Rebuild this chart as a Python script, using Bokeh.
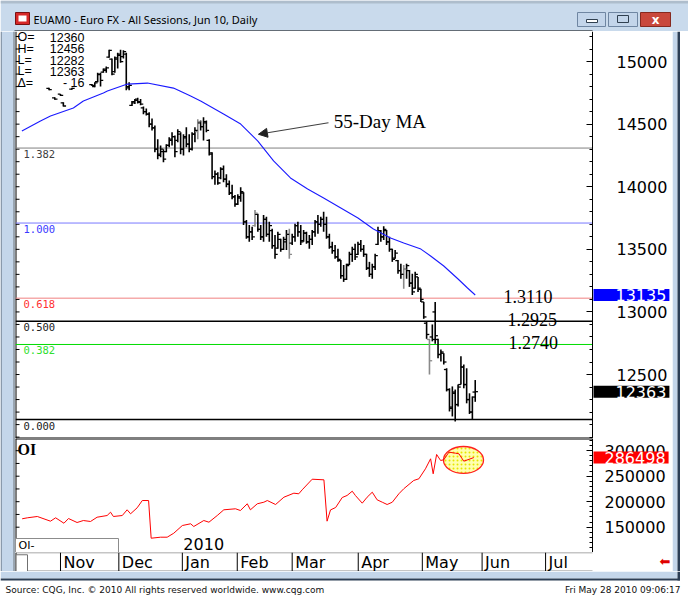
from bokeh.plotting import figure
from bokeh.layouts import column, row
from bokeh.models import (Range1d, LinearAxis, FixedTicker, Label, Arrow,
                          NormalHead, NumeralTickFormatter, ColumnDataSource)
from bokeh.core.properties import value
from bokeh.embed import file_html
from bokeh.resources import INLINE

# ------------------------------------------------------------------ data
# x = trading-day index (0 = first session of Nov 2009)
bar_idx = [-4, -2, 0, 1, 4] + list(range(11, 146))
bar_open = [14785, 14710, 14740, 14670, 14780,
    14815, 14800, 14840, 14895, 14915, 14930, 15035, 15020, 14920, 15020,
    15050, 15040, 15060, 14800, 14650, 14680, 14700, 14680, 14630, 14600,
    14580, 14500, 14470, 14300, 14260, 14280, 14280, 14330, 14370, 14400,
    14370, 14420, 14300, 14390, 14340, 14300, 14420, 14440, 14510, 14480,
    14510, 14370, 14260, 14080, 14100, 14070, 14140, 14060, 14020, 13950,
    13920, 13860, 13910, 13950, 13720, 13600, 13640, 13690, 13780, 13660,
    13600, 13740, 13620, 13650, 13530, 13510, 13580, 13500, 13560, 13620,
    13550, 13600, 13690, 13640, 13570, 13630, 13560, 13580, 13640, 13720,
    13700, 13740, 13700, 13600, 13520, 13490, 13440, 13410, 13290, 13260,
    13380, 13460, 13500, 13460, 13540, 13500, 13460, 13350, 13300, 13360,
    13540, 13650, 13600, 13650, 13560, 13500, 13430, 13410, 13330, 13300,
    13340, 13330, 13230, 13190, 13280, 13180, 13080, 12910, 12780, 12800,
    13000, 12780, 12660, 12670, 12540, 12380, 12240, 12350, 12260, 12420,
    12560, 12420, 12300, 12200, 12360]
bar_high = [14790, 14715, 14740, 14675, 14790,
    14820, 14835, 14910, 14910, 14945, 14960, 15095, 15025, 15040, 15070,
    15095, 15090, 15070, 14835, 14685, 14700, 14710, 14700, 14640, 14625,
    14595, 14545, 14490, 14380, 14330, 14300, 14340, 14395, 14435, 14410,
    14460, 14435, 14420, 14475, 14420, 14435, 14475, 14540, 14530, 14555,
    14530, 14380, 14275, 14130, 14115, 14155, 14170, 14100, 14050, 14015,
    13935, 13940, 13995, 13955, 13735, 13695, 13680, 13815, 13785, 13695,
    13775, 13760, 13720, 13665, 13615, 13640, 13585, 13600, 13655, 13665,
    13625, 13705, 13720, 13695, 13655, 13640, 13615, 13655, 13735, 13775,
    13760, 13800, 13760, 13625, 13560, 13535, 13505, 13415, 13375, 13385,
    13480, 13520, 13545, 13560, 13575, 13535, 13465, 13400, 13385, 13465,
    13680, 13655, 13685, 13655, 13600, 13505, 13495, 13415, 13385, 13375,
    13385, 13335, 13305, 13320, 13280, 13185, 13080, 12920, 12785, 12900,
    13080, 12785, 12700, 12670, 12550, 12390, 12405, 12380, 12420, 12645,
    12580, 12550, 12350, 12325, 12456]
bar_low = [14770, 14695, 14725, 14640, 14775,
    14805, 14795, 14835, 14800, 14910, 14910, 15030, 14890, 14910, 14945,
    14990, 15025, 14770, 14770, 14645, 14660, 14665, 14650, 14580, 14570,
    14475, 14450, 14275, 14220, 14235, 14195, 14275, 14315, 14330, 14235,
    14355, 14260, 14250, 14315, 14275, 14290, 14355, 14380, 14450, 14370,
    14435, 14250, 14060, 14015, 14015, 14060, 14035, 13995, 13935, 13900,
    13840, 13855, 13880, 13695, 13585, 13560, 13575, 13680, 13640, 13575,
    13560, 13600, 13560, 13505, 13425, 13505, 13480, 13495, 13495, 13425,
    13535, 13560, 13600, 13535, 13560, 13545, 13505, 13535, 13600, 13625,
    13680, 13640, 13585, 13505, 13465, 13425, 13400, 13265, 13240, 13255,
    13375, 13400, 13415, 13455, 13480, 13440, 13335, 13280, 13265, 13335,
    13535, 13560, 13575, 13535, 13480, 13400, 13425, 13305, 13265, 13185,
    13265, 13200, 13135, 13185, 13160, 13080, 12945, 12785, 12500, 12765,
    12745, 12630, 12605, 12580, 12365, 12205, 12165, 12125, 12245, 12420,
    12390, 12270, 12185, 12145, 12282]
bar_close = [14775, 14700, 14730, 14645, 14785,
    14810, 14830, 14900, 14850, 14940, 14950, 15090, 14900, 15030, 15060,
    15000, 15080, 14790, 14810, 14670, 14690, 14675, 14660, 14600, 14580,
    14500, 14470, 14300, 14250, 14300, 14220, 14330, 14380, 14400, 14280,
    14440, 14300, 14400, 14340, 14300, 14420, 14450, 14520, 14480, 14520,
    14450, 14270, 14080, 14100, 14030, 14140, 14060, 14020, 13950, 13920,
    13860, 13920, 13960, 13720, 13600, 13640, 13600, 13790, 13660, 13600,
    13740, 13620, 13690, 13530, 13460, 13620, 13500, 13580, 13620, 13460,
    13600, 13690, 13640, 13560, 13630, 13560, 13580, 13640, 13720, 13700,
    13740, 13700, 13600, 13520, 13490, 13440, 13420, 13290, 13260, 13370,
    13460, 13500, 13440, 13540, 13500, 13460, 13350, 13300, 13360, 13450,
    13650, 13600, 13660, 13560, 13500, 13420, 13470, 13330, 13300, 13340,
    13370, 13230, 13160, 13300, 13190, 13100, 12960, 12820, 12610, 12780,
    12810, 12660, 12680, 12600, 12380, 12230, 12360, 12260, 12400, 12560,
    12420, 12300, 12200, 12320, 12363]
gray_bars = [48, 68, 80, 120, 129]

ma_idx = [-13.5, -7.0, -3.5, 4.5, 8.0, 15.0, 16.4, 23.4, 30.4, 39.5, 45.5, 49.0,
          57.0, 63.0, 69.0, 74.5, 80.4, 86.4, 92.0, 98.0, 104.0, 109.4, 115.4,
          120.0, 126.0, 129.4, 134.0, 139.0, 142.3, 145.0]
ma_val = [14445, 14525, 14565, 14629, 14685, 14748, 14764, 14820, 14828, 14788,
          14724, 14685, 14581, 14501, 14365, 14206, 14070, 13982, 13910, 13830,
          13750, 13662, 13590, 13550, 13502, 13447, 13367, 13263, 13191, 13135]

oi_idx = [-13.4, -11.6, -8.1, -3.5, -1.7, 1.2, 2.8, 5.8, 8.0, 10.5, 12.8, 16.3,
          17.5, 18.5, 21.6, 23.3, 24.5, 26.8, 28.6, 30.8, 31.7, 35.0, 37.3, 39.6,
          42.6, 45.5, 46.6, 50.1, 51.9, 54.8, 57.1, 61.2, 62.9, 65.3, 66.4, 68.8,
          71.1, 72.3, 75.2, 78.1, 81.6, 83.3, 84.5, 88.0, 92.1,
          93.2, 94.4, 96.2, 98.5, 100.2, 102.0, 103.1, 105.5, 107.2, 109.0, 110.7,
          112.5, 114.2, 116.0, 118.3, 120.0, 123.5, 125.3, 127.6, 129.4, 130.3,
          131.5, 132.9, 134.0, 135.8, 138.1, 139.3, 141.0, 144.5]
oi_val = [166500, 168400, 171000, 161800, 168400, 157800, 167000, 159200, 163100,
          161200, 169600, 172900, 179400, 171000, 172900, 184100, 176300, 188000,
          202300, 202300, 128400, 130400, 130400, 138200, 153300, 156700, 151400,
          163100, 159800, 172900, 184100, 186100, 182700, 195900, 184100, 195900,
          199000, 202300, 194500, 208800, 216700, 215500, 223300, 244100, 242900,
          161800, 183900, 188600, 208200, 212200, 220600, 212200, 197100, 208800,
          218600, 203700, 199000, 194500, 199000, 215500, 225300, 241600, 244900,
          264500, 284100, 254700, 292600, 280800, 282200, 297100, 295100, 293900,
          279400, 286498]

fib_labels = ["1.382", "1.000", "0.618", "0.500", "0.382", "0.000"]
fib_levels = [14309, 13710, 13110, 12925, 12740, 12140]

target_labels = ["1.3110", "1.2925", "1.2740"]
target_levels = [13110, 12925, 12740]
target_idx = [154.9, 156.3, 156.6]

ma_note = "55-Day MA"
ma_note_at = (95.5, 14525)
ma_arrow_from = (93.7, 14511)
ma_arrow_to = (69.2, 14419)

month_names = ["Nov", "Dec", "Jan", "Feb", "Mar", "Apr", "May", "Jun", "Jul"]
month_pos = [0, 20.4, 42.6, 61.8, 81.0, 104.1, 126.5, 147.4, 169.6]
year_label = "2010"

price_ticks = [12500, 13000, 13500, 14000, 14500, 15000]
price_minor = list(range(12000, 15300, 100))
oi_ticks = [150000, 200000, 250000, 300000]
oi_minor = list(range(100000, 330000, 10000))
price_left_ticks = list(range(12000, 15300, 100))
oi_left_ticks = list(range(100000, 325000, 25000))

ohlc_names = ["O=", "H=", "L=", "L=", "\u0394="]
ohlc_values = ["12360", "12456", "12282", "12363", "- 16"]

last_price = 12363
last_ma = 13135
last_oi = 286498

oi_circle = dict(x=140.9, y=281800, w=14.0, h=52900)

title_text = "EUAM0 - Euro FX - All Sessions, Jun 10, Daily"
footer_left = "Source: CQG, Inc. \u00a9 2010 All rights reserved worldwide. www.cqg.com"
footer_right = "Fri May 28 2010 09:06:17"

# ------------------------------------------------------------------ styles / geometry
FONT = "DejaVu Sans"
fib_line_colors = ["#808080", "#7878ff", "#f08080", "#000000", "#00dd00", "#000000"]
fib_text_colors = ["#404040", "#3a3aff", "#ff3030", "#202020", "#30e030", "#202020"]
fib_line_widths = [1, 1, 1, 1.5, 1, 1.5]
FRAME_BLUE = "#c4d6ea"
FRAME_DARK = "#2c3e55"

X_START, X_END = -15.73, 186.0          # plotting area (axis line sits at X_END)
FRAME_W, AX_W = 577, 80
PX = FRAME_W / (X_END - X_START)        # pixels per trading day
X_FULL = X_END + AX_W / PX              # right edge incl. scale area
P_TOP, P_BOT = 15240, 11989
OI_TOP, OI_BOT = 323900, 100400
PRICE_H, OI_H, XB_H = 407, 114, 19
W_MID = FRAME_W + AX_W


def base_fig(w, h, xr, yr):
    f = figure(width=w, height=h, x_range=xr, y_range=yr, output_backend="svg",
               toolbar_location=None, tools="", min_border=0,
               x_axis_location=None, y_axis_location=None)
    f.grid.visible = False
    f.border_fill_color = "white"
    f.background_fill_color = "white"
    f.outline_line_color = None
    return f


def chrome_fig(w, h):
    return base_fig(w, h, Range1d(0, w), Range1d(h, 0))


def right_axis(ticks, minor, standoff):
    return LinearAxis(fixed_location=X_END,
                      ticker=FixedTicker(ticks=ticks, minor_ticks=minor),
                      formatter=NumeralTickFormatter(format="0"),
                      major_tick_in=6, major_tick_out=0, minor_tick_in=3, minor_tick_out=0,
                      major_label_standoff=standoff, major_label_text_font=FONT,
                      major_label_text_font_size="16px", major_label_text_color="black",
                      axis_line_color="black", major_tick_line_color="black",
                      minor_tick_line_color="black")


def last_label(fig, y, txt, bg, pad_left):
    fig.add_layout(Label(x=X_END, y=y, text=txt, x_offset=1, text_align="left",
                         text_baseline="middle", text_color="white", text_font=FONT,
                         text_font_size="16px", background_fill_color=bg,
                         padding=dict(left=pad_left, right=3, top=0, bottom=0)))


xr = Range1d(X_START, X_FULL)

# ------------------------------------------------------------------ price panel
price = base_fig(W_MID, PRICE_H, xr, Range1d(P_BOT, P_TOP))
price.add_layout(right_axis(price_ticks, price_minor, 24), "right")
price.segment(x0=[X_START, X_START], y0=[P_BOT, P_BOT], x1=[X_START, X_END], y1=[P_TOP, P_BOT],
              line_color="black", line_width=2)
price.ray(x=[X_START] * len(price_left_ticks), y=price_left_ticks, length=4,
          length_units="screen", angle=0, line_color="black", line_width=1)

price.segment(x0=[X_START] * len(fib_levels), y0=fib_levels, x1=[X_END] * len(fib_levels),
              y1=fib_levels, line_color=fib_line_colors, line_width=fib_line_widths)
price.text(x=[X_START] * len(fib_labels), y=fib_levels, text=fib_labels, x_offset=8,
           y_offset=2, text_baseline="top", text_color=fib_text_colors,
           text_font=value("DejaVu Sans Mono"), text_font_size="10.5px")

TICK = 0.95
bar_col = ["#8a8a8a" if i in gray_bars else "black" for i in bar_idx]
bsrc = ColumnDataSource(dict(x=bar_idx, xl=[i - TICK for i in bar_idx],
                             xr=[i + TICK for i in bar_idx], o=bar_open, h=bar_high,
                             l=bar_low, c=bar_close, col=bar_col))
price.segment("x", "l", "x", "h", source=bsrc, line_color="col", line_width=1.6)
price.segment("xl", "o", "x", "o", source=bsrc, line_color="col", line_width=1.3)
price.segment("x", "c", "xr", "c", source=bsrc, line_color="col", line_width=1.3)

price.line(ma_idx, ma_val, line_color="#1a1aff", line_width=1.1)

price.text(x=target_idx, y=target_levels, text=target_labels, y_offset=-2,
           text_baseline="alphabetic", text_font=value("Liberation Serif"),
           text_font_size="18px", text_color="black")
price.text(x=[ma_note_at[0]], y=[ma_note_at[1]], text=[ma_note], text_baseline="alphabetic",
           text_font=value("Liberation Serif"), text_font_size="19px", text_color="black")
price.add_layout(Arrow(end=NormalHead(size=9, fill_color="#202020", line_color="#202020"),
                       x_start=ma_arrow_from[0], y_start=ma_arrow_from[1],
                       x_end=ma_arrow_to[0], y_end=ma_arrow_to[1],
                       line_color="#404040", line_width=1.2))

oy = [5.5, 17, 28.5, 39.5, 51]
price.text(x=[X_START] * 5, y=[P_TOP] * 5, text=ohlc_names, x_offset=2, y_offset=oy,
           text_baseline="middle", text_font=value("Liberation Sans"), text_font_size="12.5px")
price.text(x=[X_START] * 5, y=[P_TOP] * 5, text=ohlc_values, x_offset=69, y_offset=oy,
           text_align="right", text_baseline="middle", text_font=value("Liberation Sans"),
           text_font_size="12.5px")

last_label(price, last_ma, str(last_ma), "#0000ff", 22)
last_label(price, last_price, str(last_price), "#000000", 22)

# ------------------------------------------------------------------ OI panel
oi = base_fig(W_MID, OI_H, xr, Range1d(OI_BOT, OI_TOP))
oi.add_layout(right_axis(oi_ticks, oi_minor, 12), "right")
oi.segment(x0=[X_START, X_START], y0=[OI_BOT, OI_TOP], x1=[X_START, X_END], y1=[OI_TOP, OI_TOP],
           line_color="black", line_width=2)
oi.ray(x=[X_START] * len(oi_left_ticks), y=oi_left_ticks, length=4,
       length_units="screen", angle=0, line_color="black", line_width=1)
oi.ellipse(x=[oi_circle["x"]], y=[oi_circle["y"]], width=oi_circle["w"], height=oi_circle["h"],
           fill_color="#ffff70", fill_alpha=0.55, hatch_pattern="dot", hatch_color="#e6e600",
           hatch_scale=4, line_color="#ff2020", line_width=1.3)
oi.line(oi_idx, oi_val, line_color="#ff0000", line_width=1)
oi.text(x=[X_START], y=[OI_TOP], text=["OI"], x_offset=2, y_offset=2, text_baseline="top",
        text_font=value("Liberation Serif"), text_font_style="bold", text_font_size="16px")
OI_PX = (OI_TOP - OI_BOT) / OI_H
oi.quad(left=[X_START], right=[X_START + 103 / PX], bottom=[OI_BOT], top=[OI_BOT + 14 * OI_PX],
        fill_color="white", line_color="#8c8c8c", line_width=1)
oi.text(x=[X_START], y=[OI_BOT], text=["OI-"], x_offset=3, y_offset=-7, text_baseline="middle",
        text_font=value(FONT), text_font_size="11px")
oi.text(x=[month_pos[2]], y=[OI_BOT], text=[year_label], x_offset=1, y_offset=-3,
        text_baseline="bottom", text_font=value(FONT), text_font_size="16px")
last_label(oi, last_oi, str(last_oi), "#ff0000", 11)

# ------------------------------------------------------------------ month band
xb = base_fig(W_MID, XB_H, xr, Range1d(0, 1))
xb.segment(x0=[X_START, X_START, X_START], y0=[0.99, 0.02, 0], x1=[X_END, X_END, X_START],
           y1=[0.99, 0.02, 1], line_color=["#8c8c8c", "#8c8c8c", "black"], line_width=[1.2, 1.2, 2])
xb.segment(x0=month_pos, y0=[0] * len(month_pos), x1=month_pos, y1=[1] * len(month_pos),
           line_color="black", line_width=1)
xb.text(x=month_pos, y=[0.5] * len(month_pos), text=month_names, x_offset=3,
        text_baseline="middle", text_font=value(FONT), text_font_size="16px")
xb.quad(left=[X_START + 0.2], right=[X_START + 12 / PX], bottom=[0.0], top=[0.88],
        fill_color="white", line_color="#707070")
xb.text(x=[X_FULL], y=[0.55], text=["\u2b05"], x_offset=-2, text_align="right",
        text_baseline="middle", text_color="#e00000", text_font=value(FONT),
        text_font_size="13px")

# ------------------------------------------------------------------ window chrome
title = chrome_fig(688, 31)
title.quad(left=[0], right=[688], top=[0], bottom=[31], fill_color="#c9daec", line_color=None)
title.quad(left=[0], right=[688], top=[0], bottom=[3], fill_color="#aebdcc", line_color=None)
title.quad(left=[14], right=[592], top=[30], bottom=[31], fill_color="black", line_color=None)
title.quad(left=[15], right=[29], top=[12], bottom=[24], fill_color="#d62828", line_color="#7a1010")
title.quad(left=[18], right=[26], top=[15], bottom=[21], fill_color="white", line_color=None)
title.text(x=[33], y=[18.5], text=[title_text], text_baseline="middle",
           text_font=value("Noto Sans"), text_font_size="11px", text_color="black")
title.quad(left=[577, 608], right=[605, 637], top=[12, 12], bottom=[26, 26],
           fill_color="#c3d5ea", line_color="#6f86a2")
title.quad(left=[640], right=[670], top=[12], bottom=[26], fill_color="#c9483c",
           line_color="#86291f")
title.quad(left=[586], right=[597], top=[19], bottom=[22], fill_color="white", line_color="#304050")
title.quad(left=[617], right=[628], top=[15], bottom=[22], fill_color="#c3d5ea", line_color="#304050")
title.text(x=[655], y=[19], text=["x"], text_align="center", text_baseline="middle",
           text_color="white", text_font=value(FONT), text_font_style="bold",
           text_font_size="12px")

MID_H = PRICE_H + OI_H + XB_H
left = chrome_fig(15, MID_H)
left.quad(left=[0], right=[15], top=[0], bottom=[MID_H], fill_color=FRAME_BLUE, line_color=None)
left.quad(left=[0], right=[1.5], top=[0], bottom=[MID_H], fill_color="#8a9aac", line_color=None)
left.quad(left=[12.5], right=[15], top=[0], bottom=[MID_H], fill_color="#9aa6b2", line_color=None)

right = chrome_fig(16, MID_H)
right.quad(left=[0], right=[5], top=[0], bottom=[MID_H], fill_color=FRAME_BLUE, line_color=None)
right.quad(left=[5], right=[7.5], top=[0], bottom=[MID_H], fill_color=FRAME_DARK, line_color=None)

foot = chrome_fig(688, 29)
foot.quad(left=[0], right=[677], top=[0], bottom=[7], fill_color=FRAME_BLUE, line_color=None)
foot.quad(left=[0], right=[679.5], top=[7], bottom=[9], fill_color=FRAME_DARK, line_color=None)
foot.quad(left=[677], right=[679.5], top=[0], bottom=[9], fill_color=FRAME_DARK, line_color=None)
foot.text(x=[5], y=[18.5], text=[footer_left], text_baseline="middle",
          text_font=value(FONT), text_font_size="9px", text_color="#101010")
foot.text(x=[680], y=[18.5], text=[footer_right], text_align="right", text_baseline="middle",
          text_font=value(FONT), text_font_size="9px", text_color="#101010")

layout = column(title, row(left, column(price, oi, xb), right), foot)
open("out.html", "w").write(file_html(layout, INLINE))
